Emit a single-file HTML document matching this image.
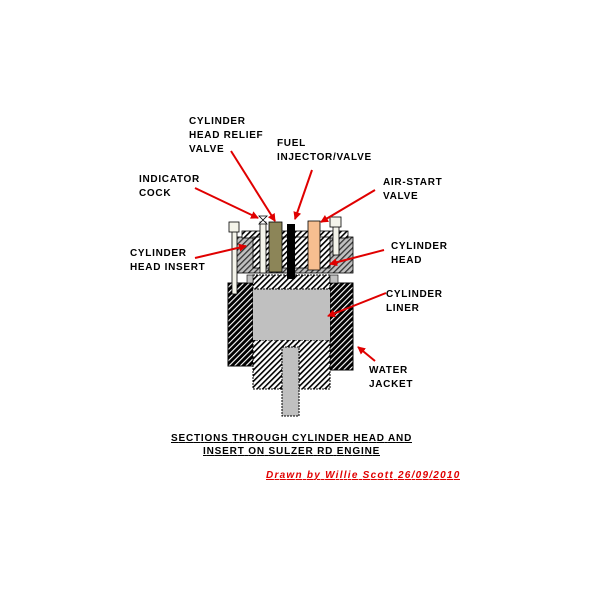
<!DOCTYPE html>
<html><head><style>
html,body{margin:0;padding:0;background:#fff;}
svg text{font-family:"Liberation Sans",sans-serif;font-weight:bold;font-size:10px;fill:#000;letter-spacing:0.7px;}
</style></head><body>
<svg width="600" height="600" viewBox="0 0 600 600" xmlns="http://www.w3.org/2000/svg">
<defs>
<pattern id="hw" width="4" height="4" patternUnits="userSpaceOnUse" patternTransform="rotate(45)">
<rect width="4" height="4" fill="#fff"/><rect width="1.6" height="4" fill="#000"/></pattern>
<pattern id="hg" width="4" height="4" patternUnits="userSpaceOnUse" patternTransform="rotate(45)">
<rect width="4" height="4" fill="#c0c0c0"/><rect width="1.3" height="4" fill="#333"/></pattern>
<pattern id="hd" width="4" height="4" patternUnits="userSpaceOnUse" patternTransform="rotate(45)">
<rect width="4" height="4" fill="#000"/><rect width="1.1" height="4" fill="#fff"/></pattern>
<marker id="ar" markerWidth="8" markerHeight="8" refX="7" refY="4" orient="auto" markerUnits="userSpaceOnUse">
<path d="M0,0 L8,4 L0,8 z" fill="#e00000"/></marker>
</defs>
<rect x="228" y="283" width="25" height="83" fill="url(#hd)" stroke="#000"/>
<rect x="330" y="283" width="23" height="87" fill="url(#hd)" stroke="#000"/>
<rect x="253" y="340" width="77" height="49" fill="url(#hw)" stroke="#000" stroke-dasharray="2,1"/>
<rect x="253" y="288" width="77" height="52" fill="#c0c0c0"/>
<rect x="253" y="275" width="77" height="14" fill="url(#hw)" stroke="#000" stroke-dasharray="2,1"/>
<rect x="247" y="275" width="6" height="8" fill="#c0c0c0" stroke="#000" stroke-width="0.6"/>
<rect x="330" y="275" width="8" height="8" fill="#c0c0c0" stroke="#000" stroke-width="0.6"/>
<rect x="282" y="347" width="17" height="69" fill="#c0c0c0" stroke="#000" stroke-dasharray="2,1"/>
<rect x="233" y="237" width="120" height="36" fill="url(#hg)" stroke="#000" stroke-width="0.8"/>
<rect x="242" y="231" width="106" height="7" fill="url(#hw)" stroke="#000" stroke-width="0.8"/>
<rect x="253" y="237" width="77" height="31" fill="url(#hw)" stroke="#000" stroke-width="0.8"/>
<rect x="232" y="230" width="5" height="64" fill="#f4f4ea" stroke="#000" stroke-width="0.8"/>
<rect x="229" y="222" width="10" height="10" fill="#f4f4ea" stroke="#000" stroke-width="0.8"/>
<rect x="333" y="226" width="6" height="29" fill="#f4f4ea" stroke="#000" stroke-width="0.8"/>
<rect x="330" y="217" width="11" height="10" fill="#f4f4ea" stroke="#000" stroke-width="0.8"/>
<rect x="260" y="222" width="6" height="51" fill="#f4f4ea" stroke="#000" stroke-width="0.8"/>
<path d="M259,216 L267,216 L263,220 L267,224 L259,224 L263,220 Z" fill="#fff" stroke="#000" stroke-width="0.8"/>
<rect x="269" y="222" width="13" height="50" fill="#8c8558" stroke="#000" stroke-width="0.8"/>
<rect x="287" y="224" width="8" height="55" fill="#000"/>
<rect x="308" y="221" width="12" height="49" fill="#f7be90" stroke="#000" stroke-width="0.8"/>
<g stroke="#e00000" stroke-width="2" marker-end="url(#ar)">
<line x1="231" y1="151" x2="275" y2="221"/>
<line x1="195" y1="188" x2="258" y2="218"/>
<line x1="312" y1="170" x2="295" y2="219"/>
<line x1="375" y1="190" x2="321" y2="222"/>
<line x1="195" y1="258" x2="246" y2="246"/>
<line x1="384" y1="250" x2="330" y2="264"/>
<line x1="386" y1="293" x2="328" y2="316"/>
<line x1="375" y1="361" x2="358" y2="347"/>
</g>
<text x="189" y="124">CYLINDER</text>
<text x="189" y="138">HEAD RELIEF</text>
<text x="189" y="152">VALVE</text>
<text x="277" y="146">FUEL</text>
<text x="277" y="160">INJECTOR/VALVE</text>
<text x="139" y="182">INDICATOR</text>
<text x="139" y="196">COCK</text>
<text x="383" y="185">AIR-START</text>
<text x="383" y="199">VALVE</text>
<text x="130" y="256">CYLINDER</text>
<text x="130" y="270">HEAD INSERT</text>
<text x="391" y="249">CYLINDER</text>
<text x="391" y="263">HEAD</text>
<text x="386" y="297">CYLINDER</text>
<text x="386" y="311">LINER</text>
<text x="369" y="373">WATER</text>
<text x="369" y="387">JACKET</text>
<text x="171" y="441" text-decoration="underline" textLength="241">SECTIONS THROUGH CYLINDER HEAD AND</text>
<text x="203" y="454" text-decoration="underline" textLength="177">INSERT ON SULZER RD ENGINE</text>
<text x="266" y="478" font-style="italic" style="fill:#e00000" text-decoration="underline" textLength="194">Drawn by Willie Scott 26/09/2010</text>
</svg>
</body></html>
